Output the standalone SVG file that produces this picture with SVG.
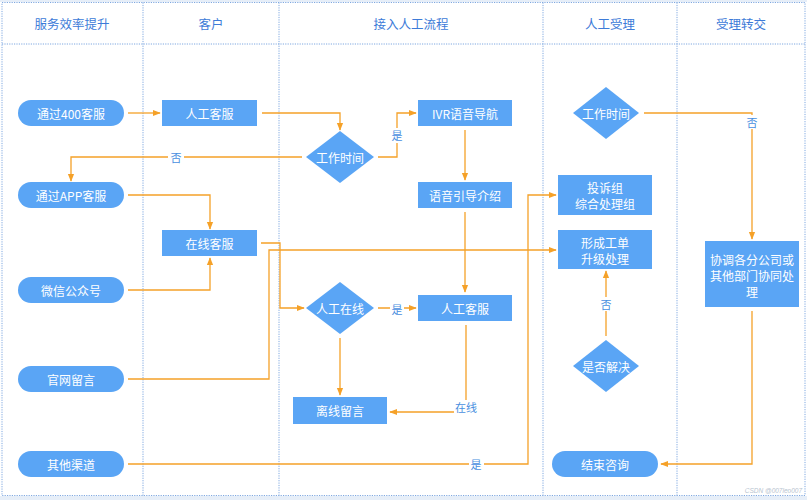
<svg xmlns="http://www.w3.org/2000/svg" width="807" height="500" viewBox="0 0 807 500">
<defs>
<marker id="arr" viewBox="0 0 10 10" refX="9" refY="5" markerWidth="8" markerHeight="8" markerUnits="userSpaceOnUse" orient="auto">
<path d="M0,1 L10,5 L0,9 Z" fill="#F5A128"/>
</marker>
<style>
.lane{fill:none;stroke:#7FA8E0;stroke-width:1;stroke-dasharray:1.2 1.2}
.hdr{font-family:"Noto Sans CJK SC","Noto Sans",sans-serif;font-size:12.5px;fill:#3D7BD8;text-anchor:middle;dominant-baseline:central}
.n{fill:#5AA5F5}
.t{font-family:"Noto Sans CJK SC","Noto Sans",sans-serif;font-size:12px;fill:#FFFFFF;text-anchor:middle;dominant-baseline:central}
.c{fill:none;stroke:#F5A128;stroke-width:1.3;marker-end:url(#arr)}
.cn{fill:none;stroke:#F5A128;stroke-width:1.3}
.lb{font-family:"Noto Sans CJK SC","Noto Sans",sans-serif;font-size:11px;fill:#4A8FE0;text-anchor:middle;dominant-baseline:central}
.lbg{fill:#FFFFFF}
</style>
</defs>
<rect x="0" y="0" width="807" height="500" fill="#FFFFFF"/>
<rect x="0" y="0" width="807" height="2" fill="#E6EEF8"/>
<rect x="0" y="496" width="807" height="4" fill="#E6EEF8"/>
<g id="lanes">
<rect class="lane" x="2" y="2.5" width="803" height="493"/>
<line class="lane" x1="2" y1="44" x2="805" y2="44"/>
<line class="lane" x1="143" y1="2.5" x2="143" y2="495.5"/>
<line class="lane" x1="279" y1="2.5" x2="279" y2="495.5"/>
<line class="lane" x1="543" y1="2.5" x2="543" y2="495.5"/>
<line class="lane" x1="677" y1="2.5" x2="677" y2="495.5"/>
<text class="hdr" x="72" y="23">服务效率提升</text>
<text class="hdr" x="211" y="23">客户</text>
<text class="hdr" x="411" y="23">接入人工流程</text>
<text class="hdr" x="610" y="23">人工受理</text>
<text class="hdr" x="741" y="23">受理转交</text>
</g>
<g id="connectors">
<path class="c" d="M128,113 H160"/>
<path class="c" d="M262,113 H340 V130"/>
<path class="c" d="M378,157 H397 V113 H416"/>
<path class="c" d="M302,157 H71 V181"/>
<path class="c" d="M128,195 H210 V229"/>
<path class="c" d="M128,290 H210 V258"/>
<path class="c" d="M261,243 H280 V308 H304"/>
<path class="c" d="M128,379 H269 V250 H556"/>
<path class="c" d="M378,308 H416"/>
<path class="c" d="M340,338 V395"/>
<path class="c" d="M465,130 V180"/>
<path class="c" d="M465,212 V292"/>
<path class="c" d="M466,325 V412 H390"/>
<path class="c" d="M128,464 H528 V195 H556"/>
<path class="c" d="M644,113 H752 V239"/>
<path class="c" d="M606,336 V271"/>
<path class="c" d="M752,311 V464 H661"/>
<rect class="lbg" x="168" y="150" width="16" height="14"/>
<text class="lb" x="176" y="157">否</text>
<rect class="lbg" x="390" y="128" width="14" height="15"/>
<text class="lb" x="397" y="135">是</text>
<rect class="lbg" x="390" y="302" width="14" height="14"/>
<text class="lb" x="397" y="309">是</text>
<rect class="lbg" x="454" y="400" width="24" height="15"/>
<text class="lb" x="466" y="407">在线</text>
<rect class="lbg" x="469" y="457" width="15" height="14"/>
<text class="lb" x="476" y="464">是</text>
<rect class="lbg" x="745" y="115" width="15" height="14"/>
<text class="lb" x="752" y="122">否</text>
<rect class="lbg" x="599" y="297" width="15" height="14"/>
<text class="lb" x="606" y="304">否</text>
</g>
<g id="n400"><rect class="n" x="18" y="100" width="106" height="26" rx="13"/><text class="t" x="71" y="113">通过400客服</text></g>
<g id="napp"><rect class="n" x="18" y="182" width="106" height="26" rx="13"/><text class="t" x="71" y="195">通过APP客服</text></g>
<g id="nwx"><rect class="n" x="18" y="277" width="106" height="26" rx="13"/><text class="t" x="71" y="290">微信公众号</text></g>
<g id="nweb"><rect class="n" x="18" y="366" width="106" height="26" rx="13"/><text class="t" x="71" y="379">官网留言</text></g>
<g id="nother"><rect class="n" x="18" y="451" width="106" height="26" rx="13"/><text class="t" x="71" y="464">其他渠道</text></g>
<g id="nkf1"><rect class="n" x="162" y="100" width="95" height="26"/><text class="t" x="209.5" y="113">人工客服</text></g>
<g id="nzx"><rect class="n" x="162" y="230" width="95" height="26"/><text class="t" x="209.5" y="243">在线客服</text></g>
<g id="nwt1"><path class="n" d="M340,131 L374,157 L340,183 L306,157 Z"/><text class="t" x="340" y="157">工作时间</text></g>
<g id="nivr"><rect class="n" x="418" y="100" width="94" height="26"/><text class="t" x="465" y="113">IVR语音导航</text></g>
<g id="nyd"><rect class="n" x="418" y="182" width="94" height="26"/><text class="t" x="465" y="195">语音引导介绍</text></g>
<g id="nrgzx"><path class="n" d="M340,282 L374,308 L340,334 L306,308 Z"/><text class="t" x="340" y="308">人工在线</text></g>
<g id="nkf2"><rect class="n" x="418" y="295" width="94" height="26"/><text class="t" x="465" y="308">人工客服</text></g>
<g id="nlx"><rect class="n" x="293" y="397" width="94" height="27"/><text class="t" x="340" y="410.5">离线留言</text></g>
<g id="nwt2"><path class="n" d="M606,87 L639,113 L606,139 L573,113 Z"/><text class="t" x="606" y="113">工作时间</text></g>
<g id="nts"><rect class="n" x="558" y="175" width="94" height="40"/><text class="t" x="605" y="187">投诉组</text><text class="t" x="605" y="203">综合处理组</text></g>
<g id="ngd"><rect class="n" x="558" y="230" width="94" height="39"/><text class="t" x="605" y="242">形成工单</text><text class="t" x="605" y="258">升级处理</text></g>
<g id="nsf"><path class="n" d="M606,340 L639,366 L606,392 L573,366 Z"/><text class="t" x="606" y="366">是否解决</text></g>
<g id="njs"><rect class="n" x="552" y="451" width="106" height="26" rx="13"/><text class="t" x="605" y="464">结束咨询</text></g>
<g id="nxt"><rect class="n" x="705" y="241" width="94" height="66"/><text class="t" x="752" y="259">协调各分公司或</text><text class="t" x="752" y="275">其他部门协同处</text><text class="t" x="752" y="291">理</text></g>
<text x="802" y="493" font-family="Liberation Sans,sans-serif" font-size="6.5" fill="#B8C4D0" text-anchor="end" font-style="italic">CSDN @007leo007</text>
</svg>
